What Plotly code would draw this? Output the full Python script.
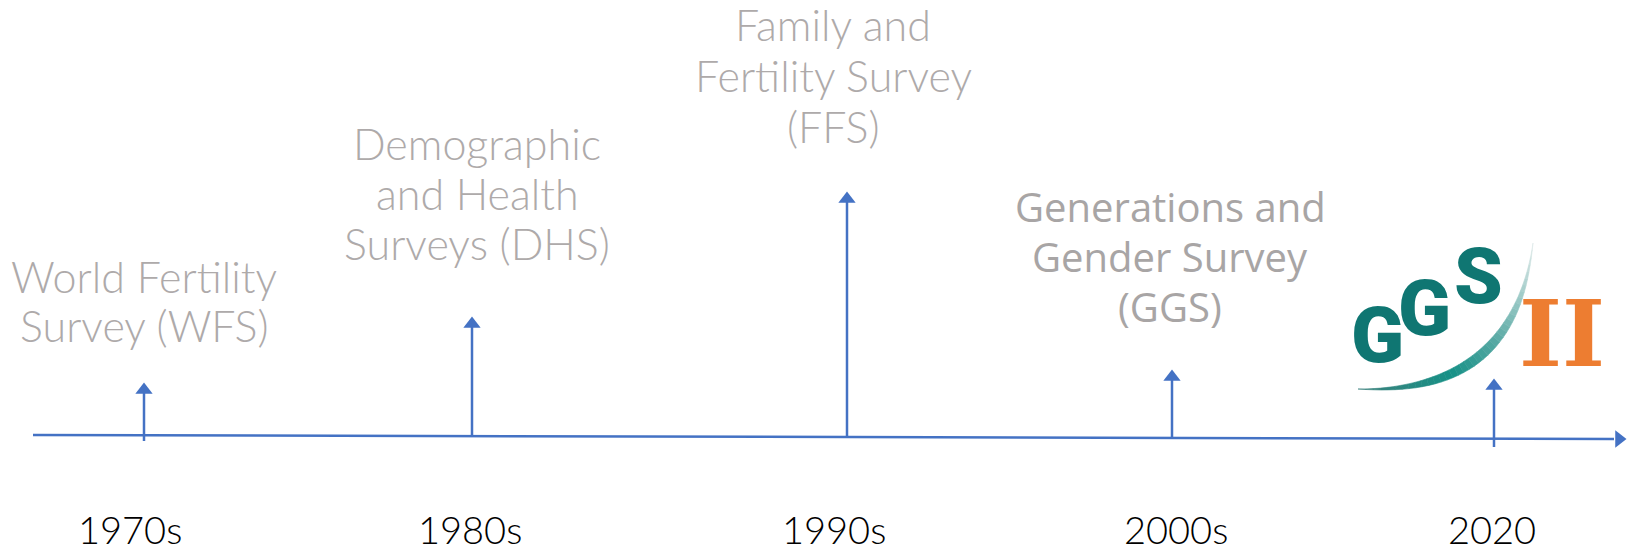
import numpy as np
import plotly.graph_objects as go

# ---- data ----
decades = ["1970s", "1980s", "1990s", "2000s", "2020"]
surveys = [
    ["World Fertility", "Survey (WFS)"],
    ["Demographic", "and Health", "Surveys (DHS)"],
    ["Family and", "Fertility Survey", "(FFS)"],
    ["Generations and", "Gender Survey", "(GGS)"],
]
timeline_x = [144, 472, 847, 1172, 1494]      # arrow positions along the timeline (px)
arrow_tip_y = [383, 317, 192, 370, 379]       # arrow tips (px from top)
arrow_base_y = [441, 437, 437, 438, 447]
decade_x = [130, 470, 834, 1176, 1492]
label_x = [144, 477, 833, 1170]
label_baselines = [[295, 344], [162, 212, 262], [43, 94, 145], [223, 273, 323]]

W, H = 1629, 551
BLUE = "#4472c4"
GREY = "#aeaaaa"
TEAL = "#0f7672"
ORANGE = "#ed7d31"

fig = go.Figure()

# main timeline
fig.add_trace(go.Scatter(x=[33, 1614], y=[435, 439], mode="lines",
                         line=dict(color=BLUE, width=2.5), hoverinfo="skip"))
fig.add_trace(go.Scatter(x=[1619], y=[439], mode="markers",
                         marker=dict(symbol="triangle-right", size=15, color=BLUE),
                         hoverinfo="skip"))

# survey arrows
for x, t, b in zip(timeline_x, arrow_tip_y, arrow_base_y):
    fig.add_trace(go.Scatter(x=[x, x], y=[b, t + 8], mode="lines",
                             line=dict(color=BLUE, width=2.5), hoverinfo="skip"))
    fig.add_trace(go.Scatter(x=[x], y=[t + 7], mode="markers",
                             marker=dict(symbol="triangle-up", size=15, color=BLUE),
                             hoverinfo="skip"))

annotations = []
for i, (lines, x, bls) in enumerate(zip(surveys, label_x, label_baselines)):
    if i < 3:
        font = dict(family="Lato", size=43, color=GREY, weight=300)
    else:
        font = dict(family="Open Sans", size=40, color="#a8a5a5", weight=400)
    for line, bl in zip(lines, bls):
        annotations.append(dict(x=x, y=bl - 0.42 * font["size"], text=line,
                                showarrow=False, xanchor="center", yanchor="middle",
                                font=font))
for d, x in zip(decades, decade_x):
    annotations.append(dict(x=x, y=545 - 0.42 * 38, text=d, showarrow=False,
                            xanchor="center", yanchor="middle",
                            font=dict(family="Lato", size=38, color="#000000",
                                      weight=300)))

# ---- GGS II logo ----
logo_letters = [("G", 1377, 335), ("G", 1424, 308), ("S", 1478, 276)]
for ch, x, y in logo_letters:
    annotations.append(dict(x=x, y=y, text=ch, showarrow=False,
                            xanchor="center", yanchor="middle",
                            font=dict(family="Roboto", size=78, color=TEAL, weight=900)))
annotations.append(dict(x=1562, y=334, text="II", showarrow=False,
                        xanchor="center", yanchor="middle",
                        font=dict(family="DejaVu Serif", size=92, color=ORANGE,
                                  weight=700)))

# swoosh (gradient crescent)
P0 = np.array([1358.0, 389.0]); P1 = np.array([1515.0, 395.0]); P2 = np.array([1533.0, 243.0])
def bez(t):
    return (1 - t) ** 2 * P0 + 2 * (1 - t) * t * P1 + t ** 2 * P2
def dbez(t):
    return 2 * (1 - t) * (P1 - P0) + 2 * t * (P2 - P1)
def thick(t):
    return 11.0 * np.sin(np.pi * t) ** 1.2 * (1.0 - 0.25 * t)
def col(t):
    stops = [(0.0, (60, 130, 125)), (0.35, (22, 145, 135)), (0.6, (90, 170, 165)),
             (1.0, (225, 235, 234))]
    for (a, ca), (b2, cb) in zip(stops[:-1], stops[1:]):
        if a <= t <= b2:
            f = (t - a) / (b2 - a)
            c = [int(ca[k] + (cb[k] - ca[k]) * f) for k in range(3)]
            return "rgb(%d,%d,%d)" % tuple(c)
    return "rgb(225,235,234)"

shapes = []
N = 40
ts = np.linspace(0, 1, N + 1)
for i in range(N):
    t0, t1 = ts[i], ts[i + 1]
    pts = []
    for t in (t0, t1):
        p = bez(t); d = dbez(t); n = np.array([-d[1], d[0]]) / np.linalg.norm(d)
        if n[1] < 0:
            n = -n
        pts.append((p, n * thick(t) / 2))
    (pa, na), (pb, nb) = pts
    path = "M %.1f %.1f L %.1f %.1f L %.1f %.1f L %.1f %.1f Z" % (
        (pa - na)[0], (pa - na)[1], (pb - nb)[0], (pb - nb)[1],
        (pb + nb)[0], (pb + nb)[1], (pa + na)[0], (pa + na)[1])
    c = col((t0 + t1) / 2)
    shapes.append(dict(type="path", path=path, xref="x", yref="y",
                       fillcolor=c, line=dict(color=c, width=0.6), layer="below"))

fig.update_layout(
    width=W, height=H, margin=dict(l=0, r=0, t=0, b=0),
    paper_bgcolor="white", plot_bgcolor="white", showlegend=False,
    xaxis=dict(range=[0, W], visible=False, fixedrange=True),
    yaxis=dict(range=[H, 0], visible=False, fixedrange=True),
    annotations=annotations, shapes=shapes,
)
fig.write_html("out.html", config={"displayModeBar": False},
               post_script="document.body.style.margin='0';document.body.style.overflow='hidden';")
